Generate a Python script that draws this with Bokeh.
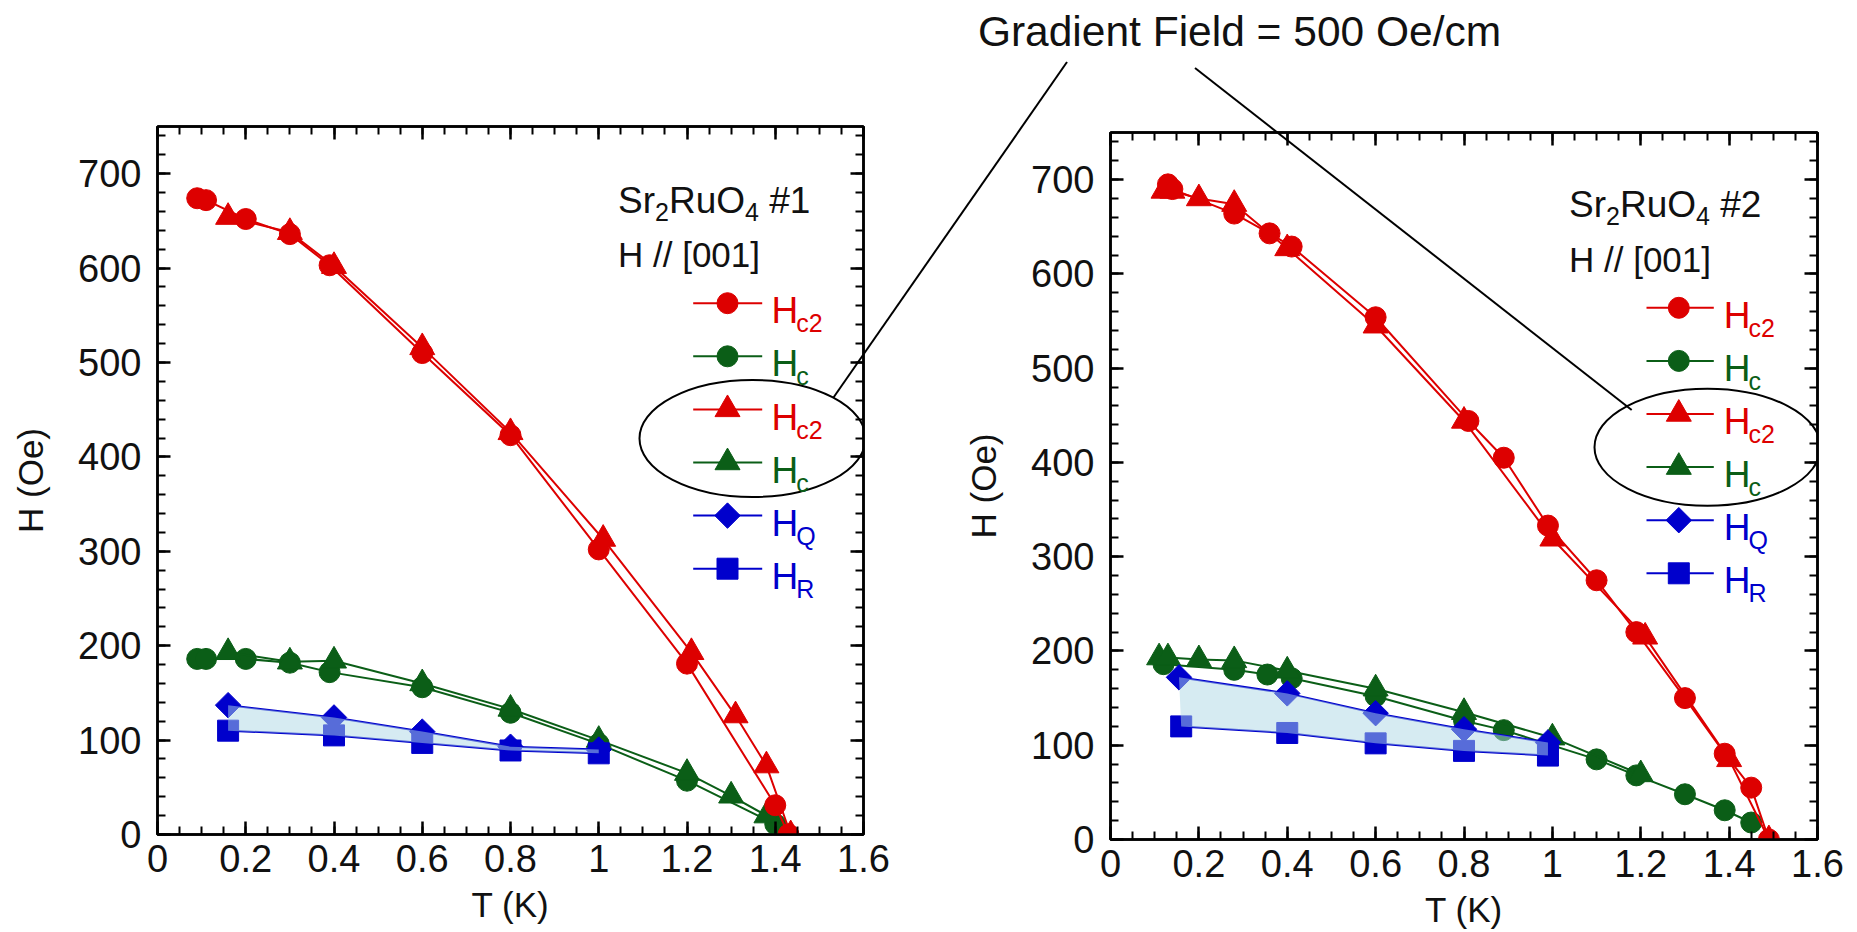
import numpy as np
from bokeh.plotting import figure
from bokeh.layouts import row, column
from bokeh.models import Range1d, LinearAxis, FixedTicker, CustomJSTickFormatter, Div
from bokeh.embed import file_html
from bokeh.resources import INLINE

# ---------------- data ----------------
x_ticks = [0, 0.2, 0.4, 0.6, 0.8, 1.0, 1.2, 1.4, 1.6]
y_ticks = [0, 100, 200, 300, 400, 500, 600, 700]

# Sample #1
s1_hc2_circle_T = [0.09, 0.11, 0.20, 0.30, 0.39, 0.60, 0.80, 1.00, 1.20, 1.40, 1.43]
s1_hc2_circle_H = [674, 672, 652, 636, 603, 510, 423, 302, 181, 31, 0]
s1_hc2_tri_T = [0.16, 0.30, 0.40, 0.60, 0.80, 1.01, 1.21, 1.31, 1.38, 1.435]
s1_hc2_tri_H = [654, 638, 602, 516, 426, 313, 193, 126, 73, 0]
s1_hc_circle_T = [0.09, 0.11, 0.20, 0.30, 0.39, 0.60, 0.80, 1.00, 1.20, 1.40]
s1_hc_circle_H = [186, 186, 186, 182, 172, 156, 129, 96, 57, 11]
s1_hc_tri_T = [0.16, 0.30, 0.40, 0.60, 0.80, 1.00, 1.20, 1.30, 1.38]
s1_hc_tri_H = [193, 183, 184, 160, 133, 100, 65, 41, 20]
s1_hq_T = [0.16, 0.40, 0.60, 0.80, 1.00]
s1_hq_H = [137, 124, 109, 93, 90]
s1_hr_T = [0.16, 0.40, 0.60, 0.80, 1.00]
s1_hr_H = [110, 105, 97, 89, 86]

# Sample #2
s2_hc2_circle_T = [0.13, 0.14, 0.28, 0.36, 0.41, 0.60, 0.81, 0.89, 0.99, 1.10, 1.19, 1.30, 1.39, 1.45, 1.49]
s2_hc2_circle_H = [695, 690, 664, 643, 629, 554, 444, 405, 333, 275, 220, 150, 91, 55, 0]
s2_hc2_tri_T = [0.12, 0.14, 0.20, 0.28, 0.40, 0.60, 0.80, 1.00, 1.21, 1.40, 1.49]
s2_hc2_tri_H = [688, 688, 680, 674, 627, 545, 444, 319, 215, 85, 0]
s2_hc_circle_T = [0.12, 0.28, 0.355, 0.41, 0.60, 0.80, 0.89, 1.10, 1.19, 1.30, 1.39, 1.45]
s2_hc_circle_H = [186, 180, 175, 171, 152, 126, 116, 85, 68, 48, 31, 18]
s2_hc_tri_T = [0.11, 0.13, 0.20, 0.28, 0.40, 0.60, 0.80, 1.00, 1.20]
s2_hc_tri_H = [193, 193, 191, 190, 179, 160, 135, 108, 69]
s2_hq_T = [0.155, 0.40, 0.60, 0.80, 0.99]
s2_hq_H = [172, 155, 134, 117, 103]
s2_hr_T = [0.16, 0.40, 0.60, 0.80, 0.99]
s2_hr_H = [120, 113, 102, 94, 89]

legend_subs = ["c2", "c", "c2", "c", "Q", "R"]
title_text = "Gradient Field = 500 Oe/cm"

# ---------------- styles ----------------
RED = "#dd0000"
GREEN = "#0b5e17"
BLUE = "#0000cc"
FILL = "#add8e6"
TXT = "#111111"
FONT = "Liberation Sans"
HEIGHT = 932
LEFT_W = 960
RIGHT_W = 1857 - LEFT_W

overlay_parts = []  # absolute-pixel svg pieces drawn on top of both panels


def svg_text(x, y, body, size, color=TXT, anchor="start"):
    overlay_parts.append(
        '<text x="%.1f" y="%.1f" font-family="%s" font-size="%.1fpx" fill="%s" '
        'text-anchor="%s" xml:space="preserve">%s</text>' % (x, y, FONT, size, color, anchor, body))


def make_panel(width, frame, canvas_x0):
    fl, fr, ft, fb = frame  # absolute pixel frame edges
    p = figure(width=width, height=HEIGHT, title=None, frame_align=False,
               x_range=Range1d(0, 1.6), y_range=Range1d(0, 750),
               output_backend="svg", toolbar_location=None,
               min_border_left=fl - canvas_x0, min_border_right=canvas_x0 + width - fr,
               min_border_top=ft, min_border_bottom=HEIGHT - fb,
               x_axis_label="T (K)", y_axis_label="H (Oe)")
    p.grid.visible = False
    p.outline_line_color = "black"
    p.outline_line_width = 2.5
    p.background_fill_color = "white"
    p.border_fill_color = "white"
    bottom = p.below[0]
    left = p.left[0]
    xminor = list(np.round(np.arange(0, 1.6001, 0.05), 3))
    yminor = list(np.arange(0, 751, 20))
    bottom.ticker = FixedTicker(ticks=x_ticks, minor_ticks=xminor)
    left.ticker = FixedTicker(ticks=y_ticks, minor_ticks=yminor)
    bottom.formatter = CustomJSTickFormatter(code="return String(Math.round(tick*10)/10)")
    top = LinearAxis(ticker=FixedTicker(ticks=x_ticks, minor_ticks=xminor),
                     formatter=CustomJSTickFormatter(code="return ''"))
    right = LinearAxis(ticker=FixedTicker(ticks=y_ticks, minor_ticks=yminor),
                       formatter=CustomJSTickFormatter(code="return ''"))
    p.add_layout(top, "above")
    p.add_layout(right, "right")
    for ax in (bottom, left, top, right):
        ax.axis_line_width = 2.5
        ax.axis_line_color = "black"
        ax.major_tick_in = 13
        ax.major_tick_out = 0
        ax.minor_tick_in = 8
        ax.minor_tick_out = 0
        ax.major_tick_line_width = 2.5
        ax.minor_tick_line_width = 2
        ax.major_label_text_font = FONT
        ax.major_label_text_font_size = "38px"
        ax.major_label_text_color = TXT
        ax.axis_label_text_font = FONT
        ax.axis_label_text_font_size = "35px"
        ax.axis_label_text_font_style = "normal"
        ax.axis_label_text_color = TXT
    left.major_label_standoff = 16
    left.axis_label_standoff = 25
    bottom.major_label_standoff = 10
    bottom.axis_label_standoff = 10
    top.major_label_text_font_size = "1px"
    top.major_label_standoff = 0
    right.major_label_text_font_size = "1px"
    right.major_label_standoff = 0

    def dx(px):
        return (px - fl) * 1.6 / (fr - fl)

    def dy(py):
        return (fb - py) * 750.0 / (fb - ft)
    return p, dx, dy


def draw_series(p, T, Hv, color, marker, size, angle=0.0):
    p.line(T, Hv, line_color=color, line_width=2)
    p.scatter(T, Hv, marker=marker, size=size, angle=angle,
              fill_color=color, line_color=color)


def draw_panel(p, dx, dy, d, legend_geom, text_geom, ellipse_geom, sample):
    (hc2c_T, hc2c_H, hc2t_T, hc2t_H, hcc_T, hcc_H, hct_T, hct_H, hq_T, hq_H, hr_T, hr_H) = d
    draw_series(p, hcc_T, hcc_H, GREEN, "circle", 21)
    draw_series(p, hct_T, hct_H, GREEN, "triangle", 25)
    draw_series(p, hc2c_T, hc2c_H, RED, "circle", 21)
    draw_series(p, hc2t_T, hc2t_H, RED, "triangle", 25)
    draw_series(p, hq_T, hq_H, BLUE, "square", 18, np.pi / 4)
    draw_series(p, hr_T, hr_H, BLUE, "square", 21)
    # shaded band between H_Q and H_R
    p.patch(list(hq_T) + list(hr_T)[::-1], list(hq_H) + list(hr_H)[::-1],
            fill_color=FILL, fill_alpha=0.5, line_color=None)

    # legend (symbols in the plot, labels with subscripts in the overlay)
    lx1, lx2, mx, hx, rows = legend_geom
    specs = [(RED, "circle", 21, 0.0), (GREEN, "circle", 21, 0.0),
             (RED, "triangle", 25, 0.0), (GREEN, "triangle", 25, 0.0),
             (BLUE, "square", 18, np.pi / 4), (BLUE, "square", 21, 0.0)]
    for (color, marker, size, ang), sub, ry in zip(specs, legend_subs, rows):
        p.line([dx(lx1), dx(lx2)], [dy(ry), dy(ry)], line_color=color, line_width=2)
        p.scatter([dx(mx)], [dy(ry)], marker=marker, size=size, angle=ang,
                  fill_color=color, line_color=color)
        svg_text(hx, ry + 15.6,
                 'H<tspan font-size="25px" dx="-2" dy="9">%s</tspan>' % sub, 37, color)

    tx, ty1, ty2 = text_geom
    svg_text(tx, ty1,
             'Sr<tspan font-size="25px" dy="8">2</tspan><tspan dy="-8">RuO</tspan>'
             '<tspan font-size="25px" dy="8">4</tspan><tspan dy="-8"> #%s</tspan>' % sample, 37)
    svg_text(tx, ty2, "H // [001]", 35)

    ex, ey, ew, eh = ellipse_geom
    p.ellipse(x=[dx(ex)], y=[dy(ey)], width=[ew], height=[eh],
              width_units="screen", height_units="screen",
              fill_color=None, line_color="black", line_width=2)


# ---------------- left panel ----------------
p1, dx1, dy1 = make_panel(LEFT_W, (157, 863, 126, 834), 0)
draw_panel(p1, dx1, dy1,
           (s1_hc2_circle_T, s1_hc2_circle_H, s1_hc2_tri_T, s1_hc2_tri_H,
            s1_hc_circle_T, s1_hc_circle_H, s1_hc_tri_T, s1_hc_tri_H,
            s1_hq_T, s1_hq_H, s1_hr_T, s1_hr_H),
           (692.7, 761.7, 727.0, 766.4, [302.7, 355.8, 408.9, 462.0, 515.1, 568.2]),
           (613.0, 208.4, 261.7),
           (752.0, 438.0, 226, 117), "1")

# ---------------- right panel ----------------
p2, dx2, dy2 = make_panel(RIGHT_W, (1110, 1817, 132, 839), LEFT_W)
draw_panel(p2, dx2, dy2,
           (s2_hc2_circle_T, s2_hc2_circle_H, s2_hc2_tri_T, s2_hc2_tri_H,
            s2_hc_circle_T, s2_hc_circle_H, s2_hc_tri_T, s2_hc_tri_H,
            s2_hq_T, s2_hq_H, s2_hr_T, s2_hr_H),
           (1646.0, 1713.3, 1678.3, 1718.8, [307.3, 360.4, 413.5, 466.6, 519.7, 572.8]),
           (1564.0, 211.7, 266.7),
           (1707.0, 446.7, 226, 117), "2")

# ---------------- overlay: title, the two pointer lines, annotation texts ----------------
overlay_parts.append('<line x1="828.3" y1="392.7" x2="1062" y2="57" stroke="black" stroke-width="2"/>')
overlay_parts.append('<line x1="1626.7" y1="405" x2="1190" y2="63" stroke="black" stroke-width="2"/>')
svg_text(1234.5, 41, title_text, 42.5, TXT, "middle")
svg = ('<svg xmlns="http://www.w3.org/2000/svg" width="1857" height="932" '
       'style="position:absolute;left:0;top:0;overflow:visible">' + "".join(overlay_parts) + '</svg>')
overlay = Div(text=svg, width=1857, height=932,
              styles={"position": "absolute", "left": "0px", "top": "0px",
                      "z-index": "10", "pointer-events": "none"})

layout = column(row(p1, p2), overlay)
open("out.html", "w").write(file_html(layout, INLINE))
